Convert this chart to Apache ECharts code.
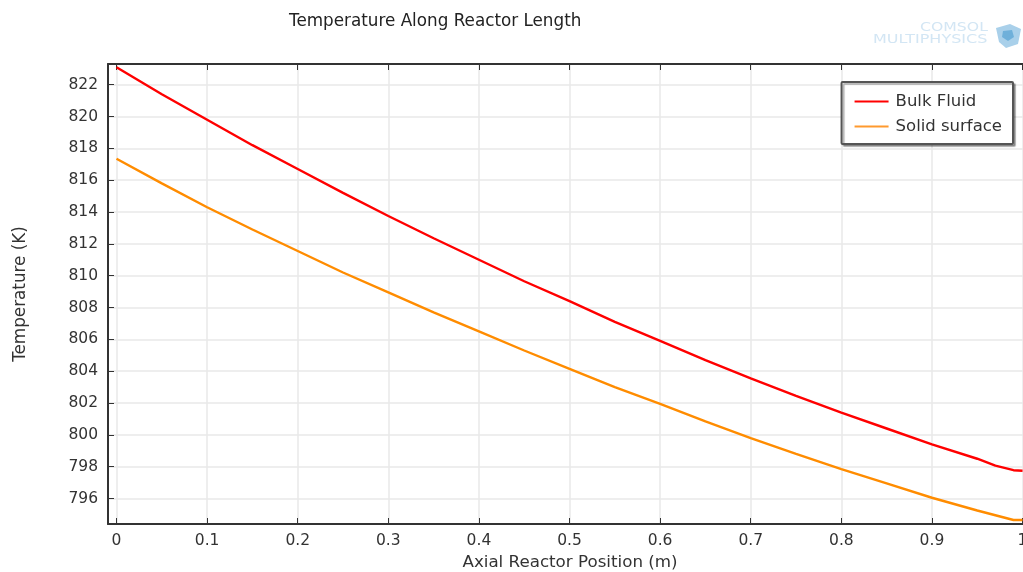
<!DOCTYPE html>
<html><head><meta charset="utf-8">
<style>html,body{margin:0;padding:0;background:#fff}#c{width:1023px;height:572px}</style>
<script src="https://cdn.jsdelivr.net/npm/echarts@6/dist/echarts.min.js"></script>
</head><body><div id="c"></div>
<script>
const positions = [0,0.05,0.1,0.15,0.2,0.25,0.3,0.35,0.4,0.45,0.5,0.55,0.6,0.65,0.7,0.75,0.8,0.85,0.9,0.95,0.97,0.99,1];
const bulkFluid = [823.1,821.4,819.8,818.2,816.7,815.2,813.75,812.35,811.0,809.65,808.4,807.1,805.9,804.7,803.55,802.45,801.4,800.4,799.4,798.5,798.07,797.78,797.75];
const solidSurface = [817.35,815.8,814.3,812.9,811.55,810.2,808.95,807.7,806.5,805.3,804.15,803.0,801.95,800.85,799.8,798.8,797.85,796.95,796.05,795.25,794.95,794.65,794.65];
const xTicks = [0,0.1,0.2,0.3,0.4,0.5,0.6,0.7,0.8,0.9,1];
const yTicks = [796,798,800,802,804,806,808,810,812,814,816,818,820,822];
const FONT = '"DejaVu Sans"';
const TXT = '#333';
const AX = '#333';
const chart = echarts.init(document.getElementById('c'), null, {renderer:'canvas'});
const pair = (ys) => positions.map((x,i)=>[x,ys[i]]);
const xBase = {type:'value', min:-0.0094, max:1.0005};
const yBase = {type:'value', min:794.4, max:823.3};
chart.setOption({
  animation:false,
  backgroundColor:'#fff',
  title:{text:'Temperature Along Reactor Length', left:284, top:8, textStyle:{fontFamily:FONT,fontSize:16.8,fontWeight:'normal',color:'#222'}},
  grid:{left:108, right:0, top:64, bottom:48, containLabel:false, outerBoundsMode:'none'},
  legend:{
    right:10, top:82, orient:'vertical', align:'left',
    padding:[11,11,9,13], itemGap:8, itemWidth:34, itemHeight:12,
    backgroundColor:'#fff', borderColor:'#555', borderWidth:2, borderRadius:1,
    shadowColor:'rgba(0,0,0,0.3)', shadowBlur:1, shadowOffsetX:2, shadowOffsetY:2,
    textStyle:{fontFamily:FONT,fontSize:16.5,color:'#333',padding:[0,0,0,2]},
    data:[{name:'Bulk Fluid',icon:'path://M0 0H34V2H0Z'},{name:'Solid surface',icon:'path://M0 0H34V2H0Z'}]
  },
  xAxis:[
    Object.assign({},xBase,{
      name:'Axial Reactor Position (m)', nameLocation:'middle', nameGap:30,
      nameTextStyle:{fontFamily:FONT,fontSize:16.7,color:TXT,padding:[0,0,0,9]},
      axisLine:{show:true,onZero:false,lineStyle:{color:AX,width:2}},
      axisTick:{show:true,inside:true,length:6,customValues:xTicks,lineStyle:{color:AX,width:1}},
      axisLabel:{customValues:xTicks,fontFamily:FONT,fontSize:15.5,color:TXT,margin:9,showMinLabel:true,showMaxLabel:true,hideOverlap:false,
        formatter:v=>String(v)},
      splitLine:{show:true,lineStyle:{color:'#e9e9e9',width:1.5}}
    }),
    Object.assign({},xBase,{
      position:'top',
      axisLine:{show:true,onZero:false,lineStyle:{color:AX,width:2}},
      axisTick:{show:true,inside:true,length:6,customValues:xTicks,lineStyle:{color:AX,width:1}},
      axisLabel:{show:false},splitLine:{show:false}
    })
  ],
  yAxis:[
    Object.assign({},yBase,{
      name:'Temperature (K)', nameLocation:'middle', nameGap:79, nameRotate:90,
      nameTextStyle:{fontFamily:FONT,fontSize:16.8,color:TXT},
      axisLine:{show:true,onZero:false,lineStyle:{color:AX,width:2}},
      axisTick:{show:true,inside:true,length:6,customValues:yTicks,lineStyle:{color:AX,width:1}},
      axisLabel:{customValues:yTicks,fontFamily:FONT,fontSize:15.5,color:TXT,margin:10,hideOverlap:false},
      splitLine:{show:true,lineStyle:{color:'#e9e9e9',width:1.5}}
    })
  ],
  series:[
    {name:'Bulk Fluid',type:'line',data:pair(bulkFluid),showSymbol:false,symbol:'none',clip:true,lineStyle:{color:'#ff0000',width:2.4},itemStyle:{color:'#ff0000'}},
    {name:'Solid surface',type:'line',data:pair(solidSurface),showSymbol:false,symbol:'none',clip:true,lineStyle:{color:'#ff8c00',width:2.4},itemStyle:{color:'#ff9a2e'}}
  ],
  graphic:[
    {type:'text',left:920,top:22,scaleY:0.75,silent:true,style:{text:'COMSOL',font:'15.7px "DejaVu Sans"',fill:'#d3e6f4'}},
    {type:'text',left:873,top:34,scaleY:0.75,silent:true,style:{text:'MULTIPHYSICS',font:'16px "DejaVu Sans"',fill:'#d3e6f4'}},
    {type:'polygon',silent:true,shape:{points:[[996,28],[1010,24],[1021,29],[1018,44],[1006,48],[999,42]]},style:{fill:'#a9d0ea'}},
    {type:'polygon',silent:true,shape:{points:[[1003,31],[1012,30],[1014,37],[1008,41],[1002,37]]},style:{fill:'#6fb0da'}}
  ]
});
</script></body></html>
